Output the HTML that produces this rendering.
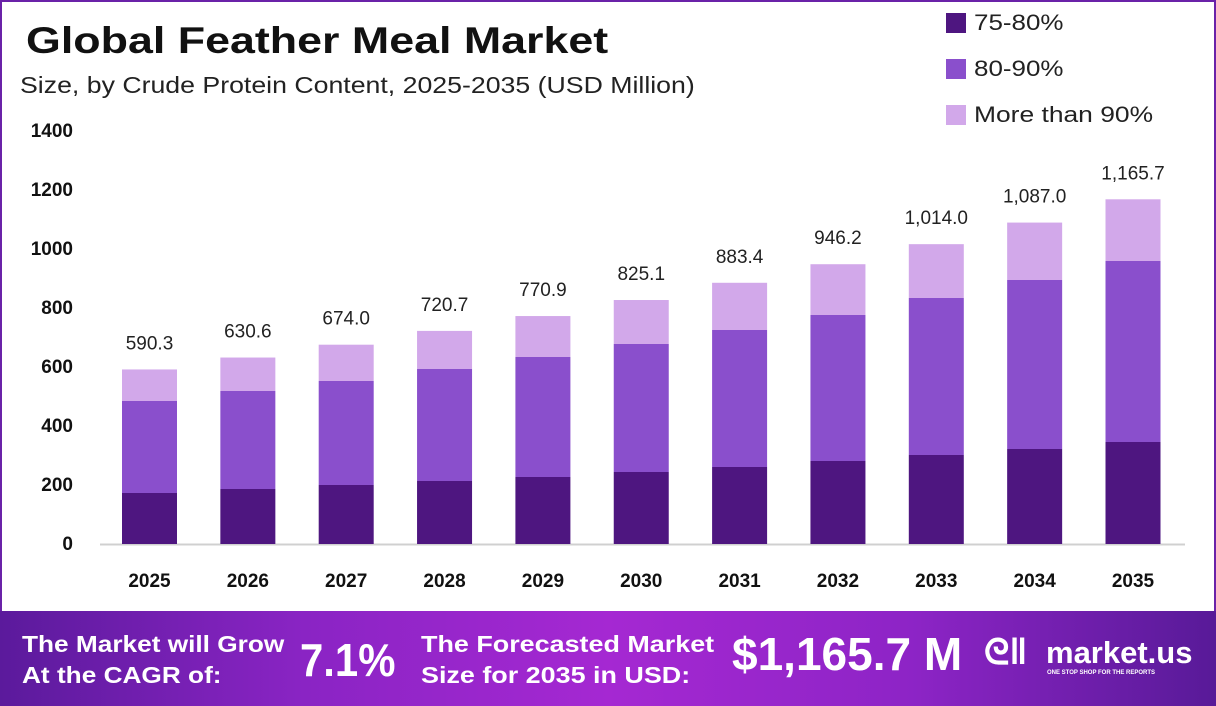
<!DOCTYPE html>
<html><head><meta charset="utf-8"><style>
body{margin:0;width:1216px;height:706px;overflow:hidden;background:#fff;font-family:"Liberation Sans",sans-serif;position:relative}
.frame{position:absolute;left:0;top:0;width:1212px;height:702px;border:2px solid #6a22a8;border-bottom:none}
.t{position:absolute;white-space:nowrap;transform-origin:0 0}
.banner{position:absolute;left:0;top:611px;width:1216px;height:95px;background:linear-gradient(90deg,#5b1a9c 0%,#8a24c4 25%,#a528d2 50%,#8d24c6 75%,#581a98 100%)}
.b{color:#fff;font-weight:bold;position:absolute;white-space:nowrap;transform-origin:0 0}
</style></head><body>
<div class="frame"></div>
<div class="t" style="left:26px;top:20px;font-size:37px;font-weight:bold;color:#111;transform:scaleX(1.21)">Global Feather Meal Market</div>
<div class="t" style="left:20px;top:72px;font-size:23px;color:#222;transform:scaleX(1.16)">Size, by Crude Protein Content, 2025-2035 (USD Million)</div>
<div style="position:absolute;left:946px;top:13px;width:20px;height:20px;background:#4e1680"></div>
<div class="t" style="left:974px;top:10px;font-size:22px;color:#222;transform:scaleX(1.18)">75-80%</div>
<div style="position:absolute;left:946px;top:59px;width:20px;height:20px;background:#8a4fcc"></div>
<div class="t" style="left:974px;top:56px;font-size:22px;color:#222;transform:scaleX(1.18)">80-90%</div>
<div style="position:absolute;left:946px;top:105px;width:20px;height:20px;background:#d2a8ea"></div>
<div class="t" style="left:974px;top:102px;font-size:22px;color:#222;transform:scaleX(1.2)">More than 90%</div>
<svg width="1216" height="706" style="position:absolute;left:0;top:0" font-family="Liberation Sans,sans-serif">
<g font-size="19" font-weight="bold" fill="#111" text-anchor="end">
<text x="73" y="137">1400</text><text x="73" y="196">1200</text><text x="73" y="255">1000</text><text x="73" y="314">800</text><text x="73" y="373">600</text><text x="73" y="432">400</text><text x="73" y="491">200</text><text x="73" y="550">0</text>
</g>
<line x1="100" y1="544.5" x2="1185" y2="544.5" stroke="#d0d0d0" stroke-width="2"/>
<g id="bars"></g>
</svg>
<div class="banner">
<div class="b" style="left:22px;top:18px;font-size:23px;line-height:31px;transform:scaleX(1.14)">The Market will Grow<br>At the CAGR of:</div>
<div class="b" style="left:300px;top:22px;font-size:46px;transform:scaleX(0.91)">7.1%</div>
<div class="b" style="left:421px;top:18px;font-size:23px;line-height:31px;transform:scaleX(1.17)">The Forecasted Market<br>Size for 2035 in USD:</div>
<div class="b" style="left:732px;top:16px;font-size:46px">$1,165.7 M</div>
<div class="b" style="left:984px;top:20px;font-size:36px">ᘓ‖</div>
<div class="b" style="left:1046px;top:24px;font-size:31px">market.us</div>
<div class="b" style="left:1047px;top:59px;font-size:6px">ONE STOP SHOP FOR THE REPORTS</div>
</div>
<script>
var tot=[590.3,630.6,674.0,720.7,770.9,825.1,883.4,946.2,1014.0,1087.0,1165.7];
var lab=["590.3","630.6","674.0","720.7","770.9","825.1","883.4","946.2","1,014.0","1,087.0","1,165.7"];
var d=[493,489,485,481,477,472,467,461,455,449,442];
var m=[401,391,381,369,357,344,330,315,298,280,261];
var g=document.getElementById('bars'),s='';
for(var i=0;i<11;i++){var cx=149.5+i*98.35,x=cx-27.5,tp=544-tot[i]*0.2957;
s+='<rect x="'+x+'" y="'+tp+'" width="55" height="'+(m[i]-tp)+'" fill="#d2a8ea"/>';
s+='<rect x="'+x+'" y="'+m[i]+'" width="55" height="'+(d[i]-m[i])+'" fill="#8a4fcc"/>';
s+='<rect x="'+x+'" y="'+d[i]+'" width="55" height="'+(544-d[i])+'" fill="#4e1680"/>';
s+='<text x="'+cx+'" y="'+(tp-20)+'" font-size="19" fill="#222" text-anchor="middle">'+lab[i]+'</text>';
s+='<text x="'+cx+'" y="587" font-size="19" font-weight="bold" fill="#111" text-anchor="middle">'+(2025+i)+'</text>';}
g.innerHTML=s;
</script>
</body></html>
